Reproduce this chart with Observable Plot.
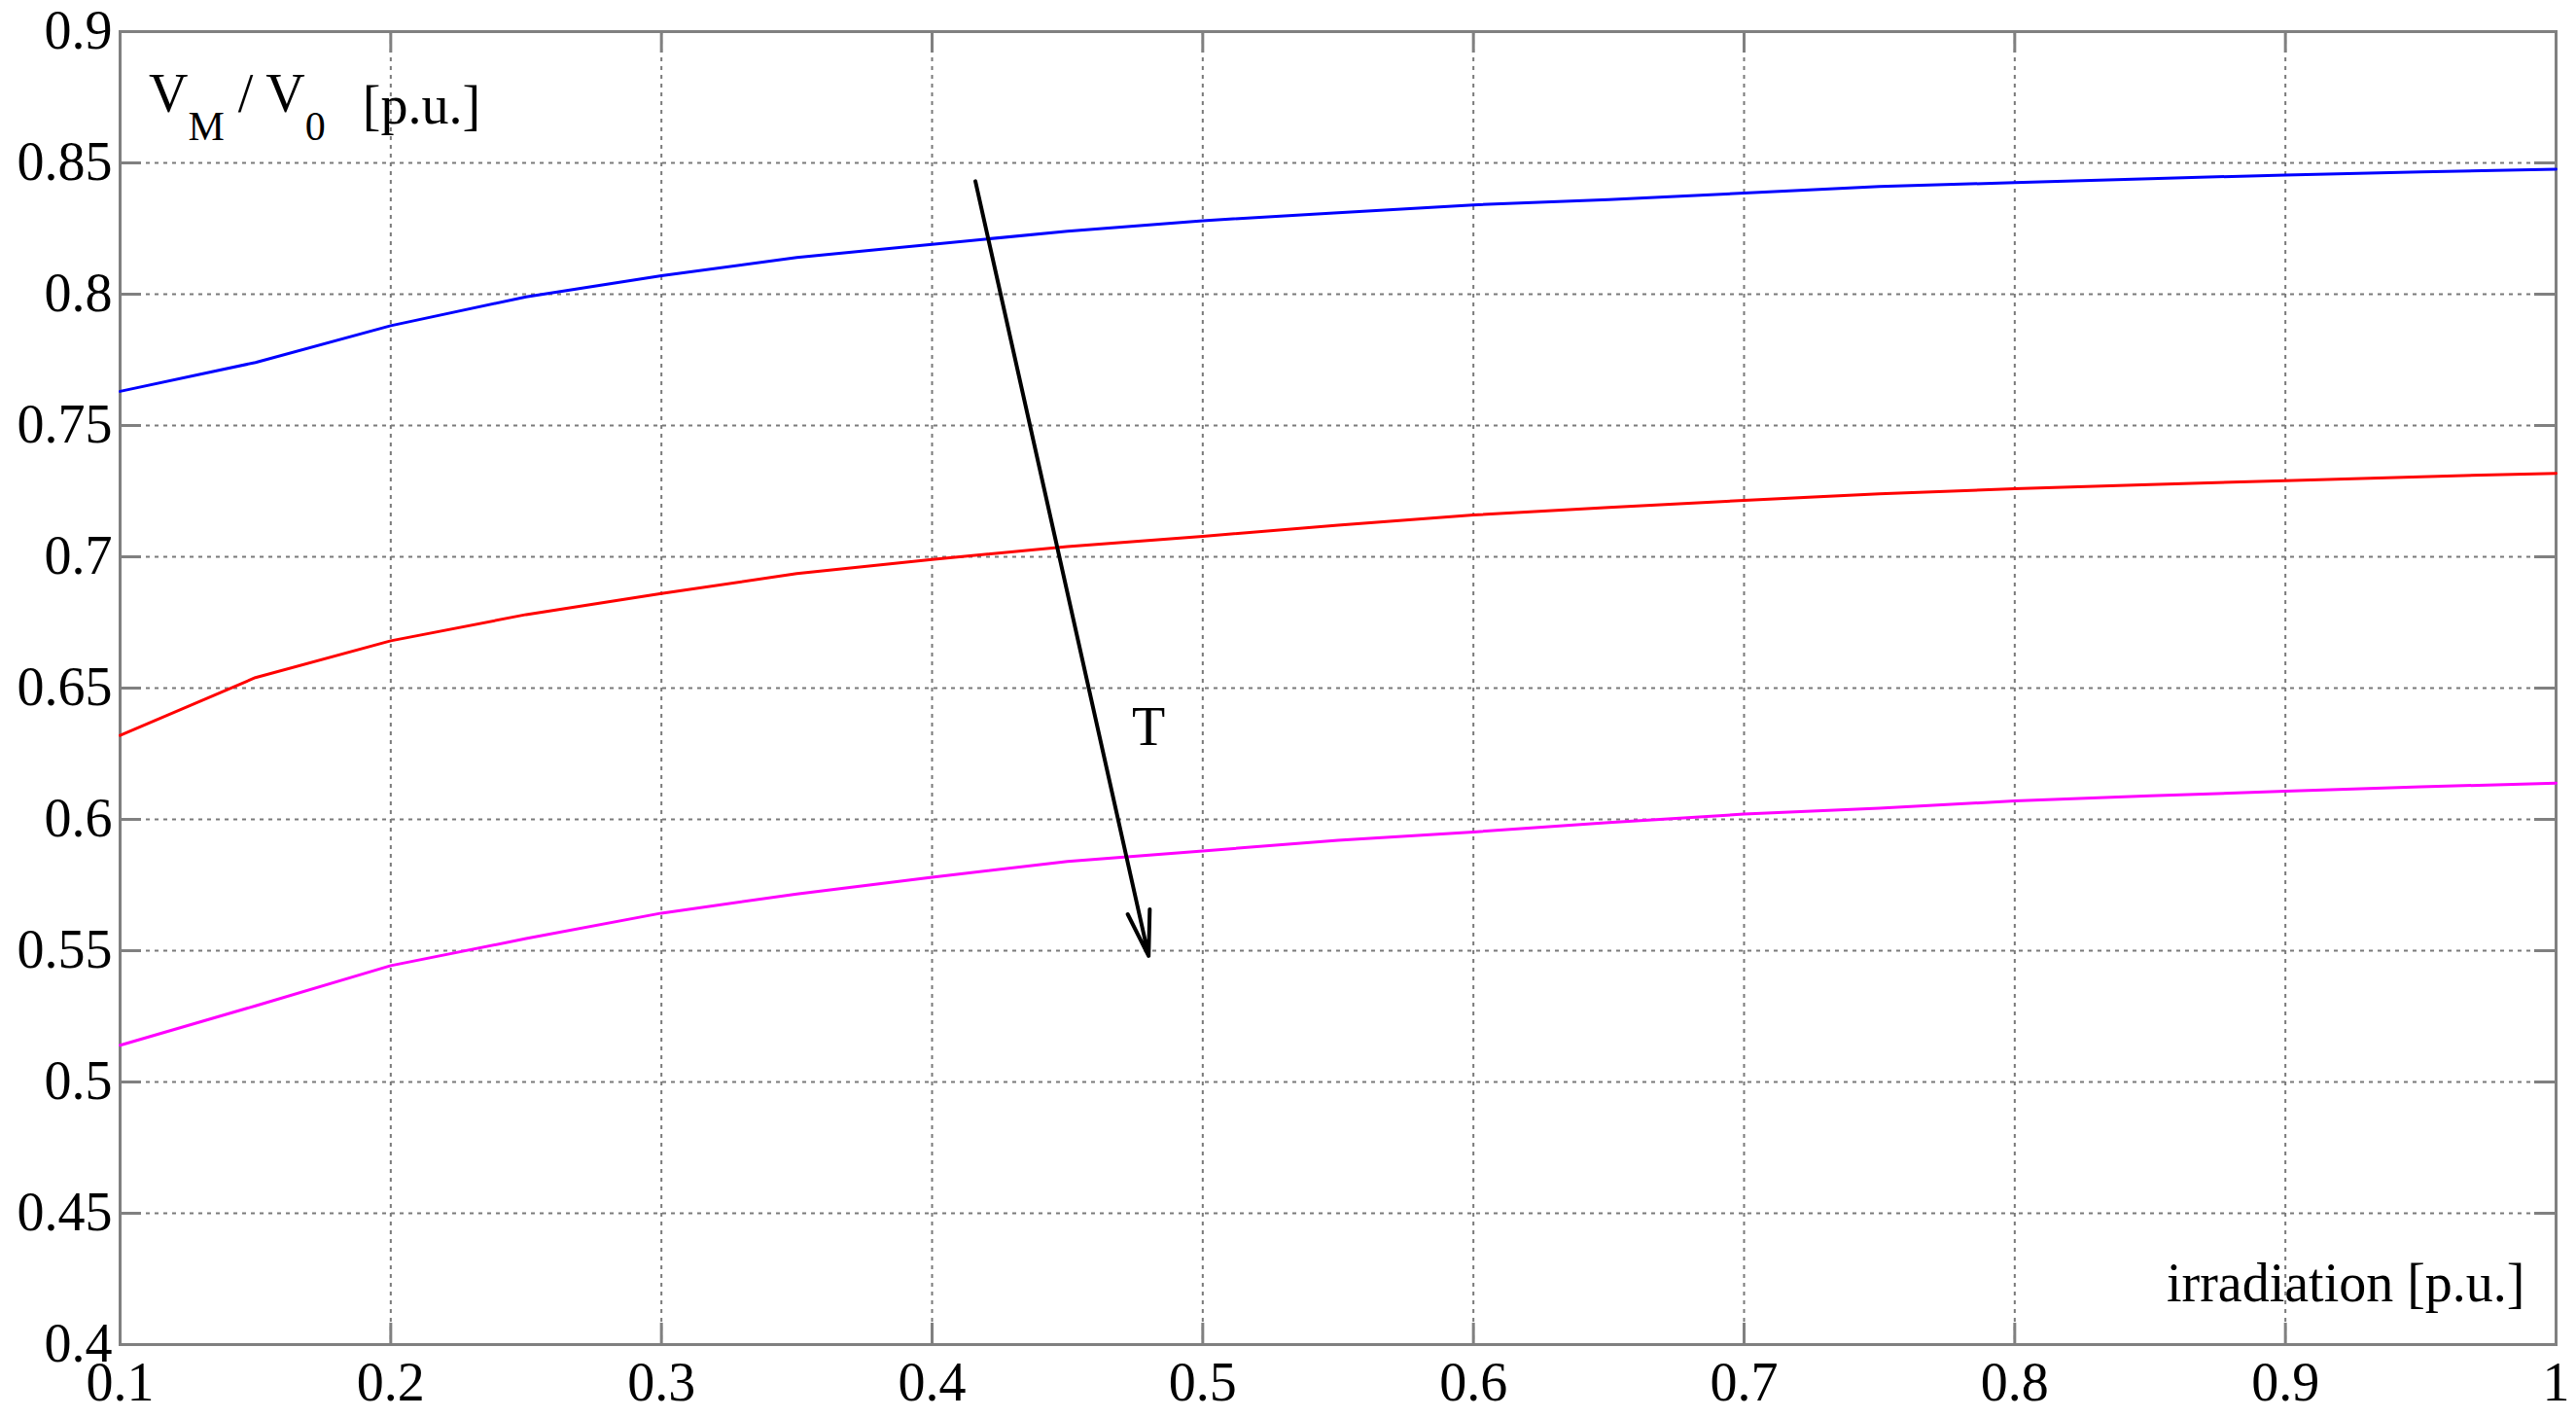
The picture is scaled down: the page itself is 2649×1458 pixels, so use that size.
<!DOCTYPE html>
<html>
<head>
<meta charset="utf-8">
<script src="https://cdn.jsdelivr.net/npm/d3@7"></script>
<script src="https://cdn.jsdelivr.net/npm/@observablehq/plot@0.6"></script>
<style>
  html, body { margin: 0; padding: 0; background: #fff; }
  svg { display: block; }
</style>
</head>
<body>
<div id="chart"></div>
<script>
// ---- data ----
const irradiation = [0.1, 0.15, 0.2, 0.25, 0.3, 0.35, 0.4, 0.45, 0.5, 0.55, 0.6, 0.65, 0.7, 0.75, 0.8, 0.85, 0.9, 0.95, 1.0];
const seriesBlue = [0.763, 0.774, 0.788, 0.799, 0.807, 0.814, 0.819, 0.824, 0.828, 0.831, 0.834, 0.836, 0.8385, 0.841, 0.8425, 0.844, 0.8454, 0.8466, 0.8476];
const seriesRed = [0.632, 0.654, 0.668, 0.678, 0.686, 0.6936, 0.699, 0.7039, 0.7078, 0.712, 0.7159, 0.7188, 0.7215, 0.724, 0.7259, 0.7275, 0.729, 0.7305, 0.7318];
const seriesMagenta = [0.514, 0.529, 0.5443, 0.5546, 0.5643, 0.5716, 0.578, 0.584, 0.588, 0.592, 0.5952, 0.5988, 0.602, 0.6043, 0.607, 0.609, 0.6107, 0.6124, 0.6138];
const seriesNames = ["blue", "red", "magenta"];
const seriesColors = ["#0000ff", "#ff0000", "#c400c4"];
const xTicks = [0.1, 0.2, 0.3, 0.4, 0.5, 0.6, 0.7, 0.8, 0.9, 1];
const yTicks = [0.4, 0.45, 0.5, 0.55, 0.6, 0.65, 0.7, 0.75, 0.8, 0.85, 0.9];
const arrowX = [0.416, 0.48];
const arrowY = [0.843, 0.548];
const arrowLabel = "T";
const arrowLabelPos = [0.48, 0.635];
const xLabel = "irradiation [p.u.]";

// ---- build table ----
const allSeries = [seriesBlue, seriesRed, seriesMagenta];
const rows = [];
allSeries.forEach((vals, i) => {
  vals.forEach((v, j) => rows.push({x: irradiation[j], y: v, s: seriesNames[i]}));
});

const W = 2649, H = 1458;
const mL = 123, mR = 21, mT = 32, mB = 76;
const innerW = W - mL - mR, innerH = H - mT - mB;
const tickLen = 22;
const font = "'Liberation Serif', 'Times New Roman', serif";
const gridStyle = {stroke: "#7a7a7a", strokeOpacity: 1, strokeWidth: 2, strokeDasharray: "4,5"};

const plot = Plot.plot({
  width: W,
  height: H,
  marginLeft: mL,
  marginRight: mR,
  marginTop: mT,
  marginBottom: mB,
  style: {fontFamily: font, fontSize: "56px", color: "#000", background: "#fff"},
  x: {domain: [0.1, 1], ticks: xTicks, tickFormat: d => String(d)},
  y: {domain: [0.4, 0.9], ticks: yTicks, tickFormat: d => String(d)},
  color: {domain: seriesNames, range: seriesColors},
  marks: [
    Plot.gridX(xTicks.slice(1, -1), gridStyle),
    Plot.gridY(yTicks.slice(1, -1), gridStyle),
    Plot.tickY(yTicks, {y: d => d, insetRight: innerW - tickLen, stroke: "#808080", strokeWidth: 3}),
    Plot.tickY(yTicks, {y: d => d, insetLeft: innerW - tickLen, stroke: "#808080", strokeWidth: 3}),
    Plot.tickX(xTicks, {x: d => d, insetTop: innerH - tickLen, stroke: "#808080", strokeWidth: 3}),
    Plot.tickX(xTicks, {x: d => d, insetBottom: innerH - tickLen, stroke: "#808080", strokeWidth: 3}),
    Plot.axisX(xTicks, {tickSize: 0, tickPadding: 18, fontSize: 56, label: null, tickFormat: d => String(d)}),
    Plot.axisY(yTicks, {tickSize: 0, tickPadding: 8, fontSize: 56, label: null, tickFormat: d => String(d)}),
    Plot.frame({stroke: "#808080", strokeWidth: 3}),
    Plot.line(rows, {x: "x", y: "y", z: "s", stroke: "s", strokeWidth: 3}),
    Plot.arrow([0], {x1: () => arrowX[0], y1: () => arrowY[0], x2: () => arrowX[1], y2: () => arrowY[1],
      stroke: "#000", strokeWidth: 4, headLength: 18, headAngle: 28}),
    Plot.text([arrowLabel], {x: () => arrowLabelPos[0], y: () => arrowLabelPos[1], text: d => d,
      fontSize: 56, textAnchor: "middle", lineAnchor: "middle", fill: "#000"}),
    Plot.text([xLabel], {frameAnchor: "bottom-right", text: d => d, dx: -32, dy: -45,
      textAnchor: "end", lineAnchor: "bottom", fontSize: 56, fill: "#000"})
  ]
});

// y-axis label with subscripts, placed inside the frame at top-left
const svg = d3.select(plot);
const t = svg.append("text")
  .attr("x", mL + 30)
  .attr("y", mT + 83)
  .attr("text-anchor", "start")
  .attr("font-family", font)
  .attr("font-size", 56)
  .attr("fill", "#000");
t.append("tspan").text("V");
t.append("tspan").attr("font-size", 42).attr("dy", 29).text("M");
t.append("tspan").attr("dy", -29).text(" / V");
t.append("tspan").attr("font-size", 42).attr("dy", 29).text("0");
t.append("tspan").attr("dy", -17).attr("dx", 38).text("[p.u.]");

document.getElementById("chart").appendChild(plot);
</script>
</body>
</html>
